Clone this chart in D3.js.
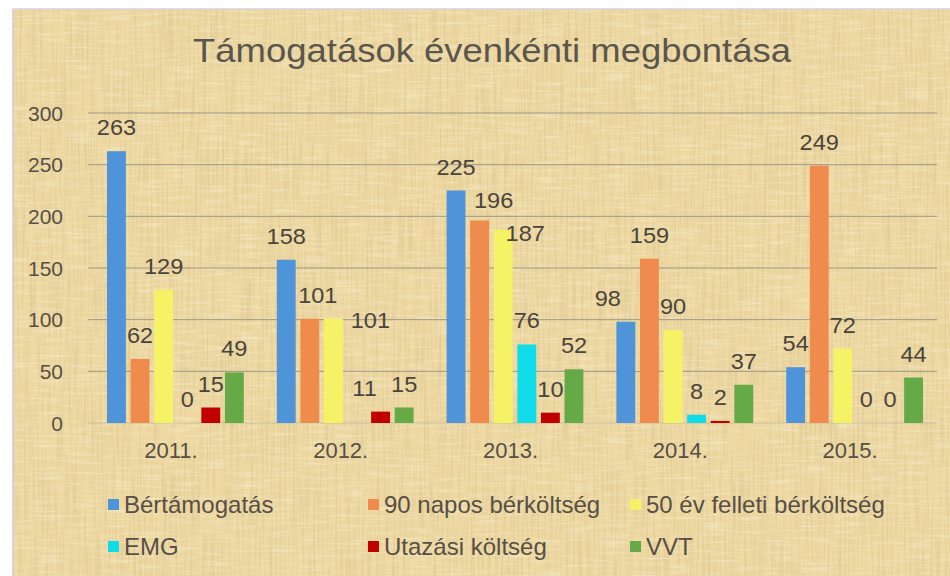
<!DOCTYPE html>
<html>
<head>
<meta charset="utf-8">
<script src="https://cdn.jsdelivr.net/npm/d3@7"></script>
<style>
  html, body { margin: 0; padding: 0; background: #ffffff; }
  svg { display: block; }
  text { font-family: "Liberation Sans", Arial, sans-serif; }
</style>
</head>
<body>
<svg id="chart" width="950" height="576"></svg>
<script>
// ---- data ----
const title = "Támogatások évenkénti megbontása";
const years = ["2011.", "2012.", "2013.", "2014.", "2015."];
const seriesNames = ["Bértámogatás", "90 napos bérköltség", "50 év felleti bérköltség", "EMG", "Utazási költség", "VVT"];
const berTamogatas = [263, 158, 225, 98, 54];
const napos90 = [62, 101, 196, 159, 249];
const ev50 = [129, 101, 187, 90, 72];
const emg = [0, null, 76, 8, 0];
const utazasi = [15, 11, 10, 2, 0];
const vvt = [49, 15, 52, 37, 44];
const yTicks = [0, 50, 100, 150, 200, 250, 300];

const seriesValues = [berTamogatas, napos90, ev50, emg, utazasi, vvt];
const colors = ["#4F93D8", "#EE8B4D", "#F6F265", "#10DBE9", "#C00000", "#65AA47"];
// manual label nudges (as placed in the original chart): key "seriesIdx-yearIdx"
const labelNudge = {"1-1": [8, 0], "2-1": [37, 25], "4-1": [-16, 0], "1-2": [14, 4], "2-2": [22, 27], "0-3": [-18, 0]};

const svg = d3.select("#chart");
const W = 950, H = 576;
const textColor = "#574f45";

// ---- background (parchment) ----
const defs = svg.append("defs");
const f1 = defs.append("filter").attr("id", "fib").attr("x", 0).attr("y", 0).attr("width", "100%").attr("height", "100%");
f1.append("feTurbulence").attr("type", "fractalNoise").attr("baseFrequency", "0.45 0.015").attr("numOctaves", 3).attr("seed", 4);
f1.append("feColorMatrix").attr("type", "matrix")
  .attr("values", "0 0 0 0 0.64  0 0 0 0 0.50  0 0 0 0 0.24  1.1 0 0 0 -0.44");
const f2 = defs.append("filter").attr("id", "fib2").attr("x", 0).attr("y", 0).attr("width", "100%").attr("height", "100%");
f2.append("feTurbulence").attr("type", "fractalNoise").attr("baseFrequency", "0.03 0.4").attr("numOctaves", 3).attr("seed", 9);
f2.append("feColorMatrix").attr("type", "matrix")
  .attr("values", "0 0 0 0 0.98  0 0 0 0 0.93  0 0 0 0 0.74  1.0 0 0 0 -0.47");

const bgX = 13, bgY = 9;
svg.append("rect").attr("x", bgX).attr("y", bgY).attr("width", W - bgX).attr("height", H - bgY).attr("fill", "#eed9a3");
svg.append("rect").attr("x", bgX).attr("y", bgY).attr("width", W - bgX).attr("height", H - bgY).attr("filter", "url(#fib)");
svg.append("rect").attr("x", bgX).attr("y", bgY).attr("width", W - bgX).attr("height", H - bgY).attr("filter", "url(#fib2)");
svg.append("line").attr("x1", bgX).attr("x2", bgX).attr("y1", bgY).attr("y2", H).attr("stroke", "#cfc8d8").attr("stroke-width", 1.5);
svg.append("line").attr("x1", bgX).attr("x2", W).attr("y1", bgY).attr("y2", bgY).attr("stroke", "#d8d2dc").attr("stroke-width", 1.5);

// ---- title ----
svg.append("text").attr("x", 193).attr("y", 62)
  .attr("font-size", 34).attr("fill", "#5b564d")
  .attr("textLength", 598).attr("lengthAdjust", "spacingAndGlyphs").text(title);

// ---- scales ----
const plot = {left: 88, right: 937, top: 113, bottom: 423};
const x0 = d3.scaleBand().domain(years).range([plot.left, plot.right]).paddingInner(0).paddingOuter(0);
const x1 = d3.scaleBand().domain(d3.range(seriesNames.length)).range([19, x0.bandwidth() - 14]).paddingInner(0.2);
const y = d3.scaleLinear().domain([0, 300]).range([plot.bottom, plot.top]);

// gridlines
const g = svg.append("g");
g.selectAll("line.grid").data(yTicks).join("line")
  .attr("x1", plot.left).attr("x2", plot.right)
  .attr("y1", d => y(d)).attr("y2", d => y(d))
  .attr("stroke", d => d === 0 ? "#cbbf9f" : "#9f9786").attr("stroke-width", 1);

// y axis labels
const yAxis = d3.axisLeft(y).tickValues(yTicks).tickSize(0).tickPadding(0);
const ya = svg.append("g").attr("transform", "translate(63,0)").call(yAxis);
ya.select(".domain").remove();
ya.selectAll("text").attr("font-size", 21).attr("fill", textColor).attr("font-family", "Liberation Sans, Arial, sans-serif").attr("dy", "0.34em");

// x axis labels
const xAxis = d3.axisBottom(x0).tickSize(0).tickPadding(0);
const xa = svg.append("g").attr("transform", "translate(0,458)").call(xAxis);
xa.select(".domain").remove();
xa.selectAll("text").attr("font-size", 22).attr("fill", textColor).attr("font-family", "Liberation Sans, Arial, sans-serif").attr("dy", 0).attr("dx", -2);

// bars
const pts = [];
seriesValues.forEach((vals, si) => vals.forEach((v, yi) => { if (v !== null) pts.push({si, yi, v}); }));
svg.append("g").selectAll("rect").data(pts).join("rect")
  .attr("x", d => x0(years[d.yi]) + x1(d.si))
  .attr("width", x1.bandwidth())
  .attr("y", d => y(d.v))
  .attr("height", d => y(0) - y(d.v))
  .attr("fill", d => colors[d.si]);

// data labels
svg.append("g").selectAll("text").data(pts).join("text")
  .attr("transform", d => {
    const n = labelNudge[d.si + "-" + d.yi] || [0, 0];
    const lx = x0(years[d.yi]) + x1(d.si) + x1.bandwidth() / 2 + n[0];
    const ly = y(d.v) - 16 + n[1];
    return `translate(${lx},${ly}) scale(1.07,1)`;
  })
  .attr("text-anchor", "middle").attr("font-size", 22).attr("fill", "#4a443c")
  .text(d => d.v);

// legend
const legendPos = [[108, 513], [368, 513], [630, 513], [108, 555], [368, 555], [630, 555]];
const lg = svg.append("g").selectAll("g").data(seriesNames).join("g")
  .attr("transform", (d, i) => `translate(${legendPos[i][0]},${legendPos[i][1]})`);
lg.append("rect").attr("x", 0).attr("y", -14).attr("width", 11).attr("height", 11).attr("fill", (d, i) => colors[i]);
lg.append("text").attr("x", 16).attr("y", 0).attr("font-size", 24).attr("fill", textColor).text(d => d);
</script>
</body>
</html>
